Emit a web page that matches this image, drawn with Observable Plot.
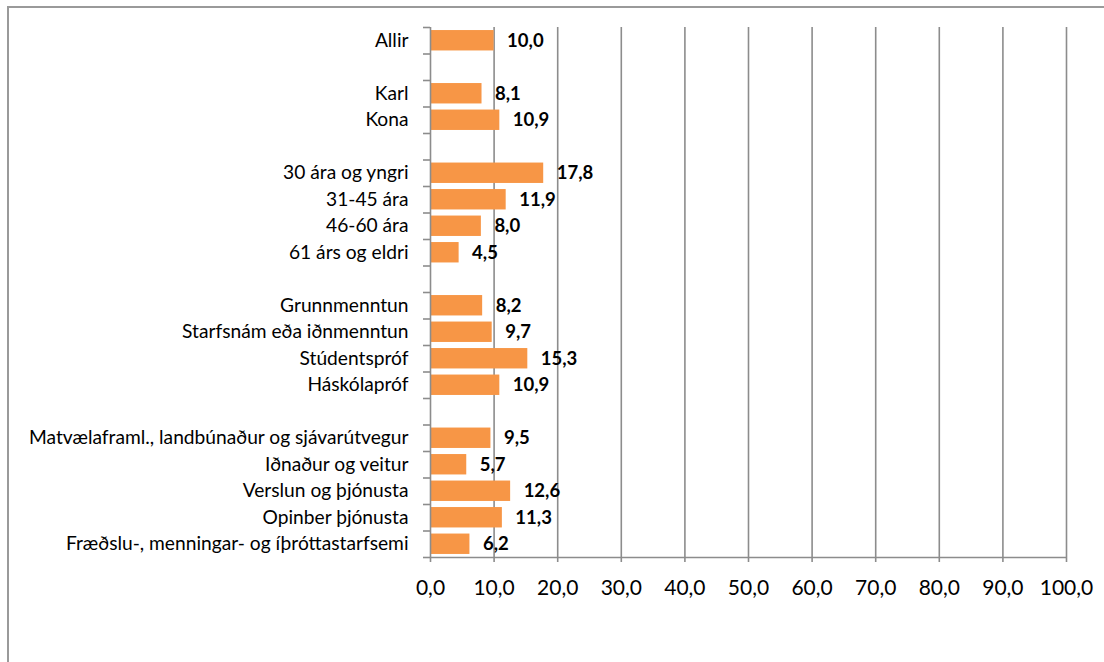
<!DOCTYPE html>
<html>
<head>
<meta charset="utf-8">
<script src="https://cdn.jsdelivr.net/npm/d3@7"></script>
<script src="https://cdn.jsdelivr.net/npm/@observablehq/plot@0.6"></script>
<style>
  html, body { margin: 0; padding: 0; background: #fff; }
  #wrap { position: relative; width: 1104px; height: 662px; overflow: hidden; background: #fff; }
  #frame { position: absolute; left: 7px; top: 6px; width: 1200px; height: 800px; border: 2px solid #9a9a9a; pointer-events: none; }
</style>
</head>
<body>
<div id="wrap"><div id="frame"></div></div>
<script>
const categories = [
  "Allir", null,
  "Karl", "Kona", null,
  "30 ára og yngri", "31-45 ára", "46-60 ára", "61 árs og eldri", null,
  "Grunnmenntun", "Starfsnám eða iðnmenntun", "Stúdentspróf", "Háskólapróf", null,
  "Matvælaframl., landbúnaður og sjávarútvegur", "Iðnaður og veitur", "Verslun og þjónusta", "Opinber þjónusta", "Fræðslu-, menningar- og íþróttastarfsemi"
];
const values = [
  10.0, null,
  8.1, 10.9, null,
  17.8, 11.9, 8.0, 4.5, null,
  8.2, 9.7, 15.3, 10.9, null,
  9.5, 5.7, 12.6, 11.3, 6.2
];
const xTicks = [0, 10, 20, 30, 40, 50, 60, 70, 80, 90, 100];

const fmt = v => v.toFixed(1).replace(".", ",");
const data = categories
  .map((cat, row) => ({cat, value: values[row], row}))
  .filter(d => d.cat !== null);
const nRows = categories.length;
const gray = "#8c8c8c";

const chart = Plot.plot({
  width: 1104,
  height: 662,
  marginLeft: 430,
  marginRight: 38,
  marginTop: 27,
  marginBottom: 105,
  style: {fontFamily: "Lato, 'Open Sans', sans-serif", fontSize: "19px", color: "#000", background: "transparent"},
  x: {domain: [0, 100], label: null},
  y: {domain: [0, nRows], reverse: true, label: null},
  marks: [
    Plot.gridX(xTicks.slice(1), {stroke: gray, strokeOpacity: 1, strokeWidth: 1.6}),
    Plot.rectX(data, {x1: 0, x2: "value", y1: d => d.row + 0.115, y2: d => d.row + 0.885, fill: "#F79646"}),
    Plot.ruleX([0], {stroke: gray, strokeWidth: 1.6}),
    Plot.ruleY([nRows], {stroke: gray, strokeWidth: 1.6}),
    Plot.axisY(d3.range(nRows + 1), {tickSize: 7, tickFormat: () => "", stroke: gray, strokeWidth: 1.6, label: null}),
    Plot.axisY(data.map(d => d.row + 0.5), {tickSize: 0, tickPadding: 22, tickFormat: v => categories[Math.round(v - 0.5)], fill: "#000", fontSize: 19.2, label: null}),
    Plot.axisX(xTicks, {tickSize: 5, tickPadding: 18, tickFormat: fmt, stroke: gray, strokeWidth: 1.6, fill: "#000", fontSize: 21, label: null}),
    Plot.text(data, {x: "value", y: d => d.row + 0.5, text: d => fmt(d.value), textAnchor: "start", dx: 13, fontWeight: "bold", fontSize: 18.5, fill: "#000"})
  ]
});
chart.style.position = "absolute";
chart.style.left = "0px";
chart.style.top = "0px";
document.getElementById("wrap").insertBefore(chart, document.getElementById("frame"));
</script>
</body>
</html>
